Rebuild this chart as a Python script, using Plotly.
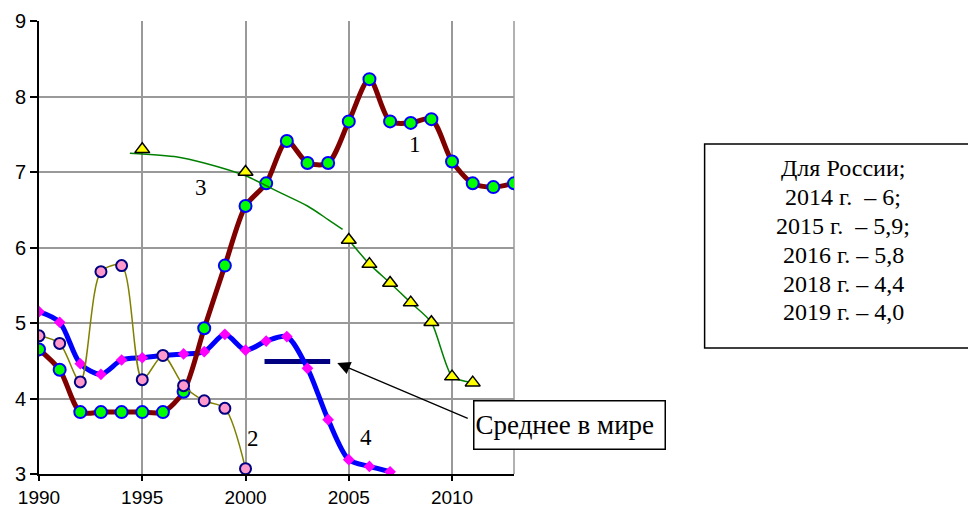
import plotly.graph_objects as go

# ---- data ----
years1 = list(range(1990, 2014))
series1 = [4.65, 4.38, 3.82, 3.82, 3.82, 3.82, 3.82, 4.09, 4.93, 5.76, 6.55, 6.85,
           7.41, 7.12, 7.12, 7.67, 8.23, 7.67, 7.65, 7.70, 7.14, 6.85, 6.80, 6.85]

years2 = list(range(1990, 2001))
series2 = [4.83, 4.73, 4.22, 5.68, 5.76, 4.25, 4.57, 4.17, 3.97, 3.87, 3.07]

years4 = list(range(1990, 2008))
series4 = [5.15, 5.01, 4.46, 4.32, 4.51, 4.54, 4.57, 4.59, 4.62, 4.85, 4.64, 4.76,
           4.82, 4.40, 3.72, 3.19, 3.10, 3.03]

years3_early = [1995, 2000]
series3_early = [7.30, 7.00]
trend3_years = [1994.4, 1996.7, 1998.0, 2000.0, 2001.5, 2003.0, 2004.0, 2004.7]
trend3_values = [7.25, 7.20, 7.12, 6.95, 6.75, 6.55, 6.37, 6.24]
years3 = list(range(2005, 2012))
series3 = [6.10, 5.78, 5.53, 5.27, 5.01, 4.29, 4.21]

world_years = [2000.92, 2004.1]
world_values = [4.49, 4.49]

curve_labels = ["1", "2", "3", "4"]
label_x = [2008.2, 2000.35, 1997.85, 2005.85]
label_y = [7.36, 3.47, 6.79, 3.48]

x_ticks = [1990, 1995, 2000, 2005, 2010]
y_ticks = [3, 4, 5, 6, 7, 8, 9]

russia_text = ["Для России;", "2014 г.\u00a0 – 6;", "2015 г.\u00a0 – 5,9;",
               "2016 г. – 5,8", "2018 г. – 4,4", "2019 г. – 4,0"]
world_label = "Среднее в мире"

SERIF = "Liberation Serif"
SANS = "Liberation Sans"

# layout geometry (window pixels); the page body adds an 8px offset
OFF = 8
PL, PR, PT, PB = 39.3, 514.0, 21.0, 474.3
PW, PH = PR - PL, PB - PT


def px(x):
    return (x - PL) / PW


def py(y):
    return (PB - y) / PH


fig = go.Figure()

# world average line
fig.add_trace(go.Scatter(x=world_years, y=world_values, mode="lines",
                         line=dict(color="#000080", width=5), hoverinfo="skip"))
# series 4 (blue)
fig.add_trace(go.Scatter(x=years4, y=series4, mode="lines+markers",
                         line=dict(color="#0000FF", width=5, shape="spline", smoothing=0.8),
                         marker=dict(symbol="diamond", size=9, color="#FF00FF",
                                     line=dict(width=0))))
# series 1 (dark red)
fig.add_trace(go.Scatter(x=years1, y=series1, mode="lines+markers",
                         line=dict(color="#800000", width=5, shape="spline", smoothing=0.8),
                         marker=dict(symbol="circle", size=12, color="#00FF00",
                                     line=dict(color="#0000FF", width=2))))
# series 2 (olive)
fig.add_trace(go.Scatter(x=years2, y=series2, mode="lines+markers",
                         line=dict(color="#808000", width=1.5, shape="spline", smoothing=0.8),
                         marker=dict(symbol="circle", size=11, color="#FF99CC",
                                     line=dict(color="#000080", width=2))))
# series 3 (green)
fig.add_trace(go.Scatter(x=trend3_years, y=trend3_values, mode="lines",
                         line=dict(color="#008000", width=1.5, shape="spline", smoothing=0.8)))
fig.add_trace(go.Scatter(x=years3_early, y=series3_early, mode="markers",
                         marker=dict(symbol="triangle-up", size=13, color="#FFFF00",
                                     line=dict(color="#000000", width=1.5))))
fig.add_trace(go.Scatter(x=years3, y=series3, mode="lines+markers",
                         line=dict(color="#008000", width=1.5, shape="spline", smoothing=0.6),
                         marker=dict(symbol="triangle-up", size=13, color="#FFFF00",
                                     line=dict(color="#000000", width=1.5))))

annotations = []
for t, x, y in zip(curve_labels, label_x, label_y):
    annotations.append(dict(x=x, y=y, xref="x", yref="y", text=t, showarrow=False,
                            font=dict(family=SERIF, size=23, color="black")))

# arrow to world average
annotations.append(dict(x=2004.44, y=4.47, xref="x", yref="y", text="",
                        showarrow=True, arrowhead=2, arrowsize=2, arrowwidth=1.3,
                        arrowcolor="black", axref="pixel", ayref="pixel",
                        ax=132, ay=56))
# world average box
annotations.append(dict(x=px(472.7), y=py(424.8), xref="paper", yref="paper",
                        text=world_label, showarrow=False, align="left",
                        font=dict(family=SERIF, size=27, color="black"),
                        bordercolor="black", borderwidth=1.5, borderpad=1,
                        width=188, height=45, bgcolor="white",
                        xanchor="left", yanchor="middle"))
# Russia text, one line each
russia_line_y = [168.5, 197.5, 226.3, 255.0, 283.8, 312.6]
for t, yy in zip(russia_text, russia_line_y):
    annotations.append(dict(x=px(843), y=py(yy), xref="paper", yref="paper", text=t,
                            showarrow=False, font=dict(family=SERIF, size=24, color="black"),
                            xanchor="center", yanchor="middle"))

shapes = [
    dict(type="rect", xref="paper", yref="paper",
         x0=px(704.5), x1=px(974.5), y0=py(348.3), y1=py(144),
         line=dict(color="black", width=1.5)),
    dict(type="line", xref="paper", yref="paper", x0=1, x1=1, y0=0, y1=1,
         line=dict(color="#999999", width=1.5), layer="below"),
]

W, H = 976 - OFF, 508 - OFF
fig.update_layout(
    width=W, height=H,
    margin=dict(l=PL - OFF, r=W - (PR - OFF), t=PT - OFF, b=H - (PB - OFF), pad=0,
                autoexpand=False),
    paper_bgcolor="white", plot_bgcolor="white",
    showlegend=False,
    annotations=annotations, shapes=shapes,
    xaxis=dict(range=[1990, 2013], tickvals=x_ticks, showgrid=True, automargin=False,
               gridcolor="#999999", gridwidth=1.5, showline=True, linecolor="black",
               linewidth=2, ticks="outside", ticklen=5, tickcolor="black", tickwidth=1.5,
               tickfont=dict(family=SANS, size=19, color="black"), zeroline=False),
    yaxis=dict(range=[3, 9], tickvals=y_ticks, showgrid=True, automargin=False,
               gridcolor="#999999", gridwidth=1.5, showline=True, linecolor="black",
               linewidth=2, ticks="outside", ticklen=7, tickcolor="black", tickwidth=1.5,
               tickfont=dict(family=SANS, size=20, color="black"), zeroline=False),
)

fig.write_html("out.html")
